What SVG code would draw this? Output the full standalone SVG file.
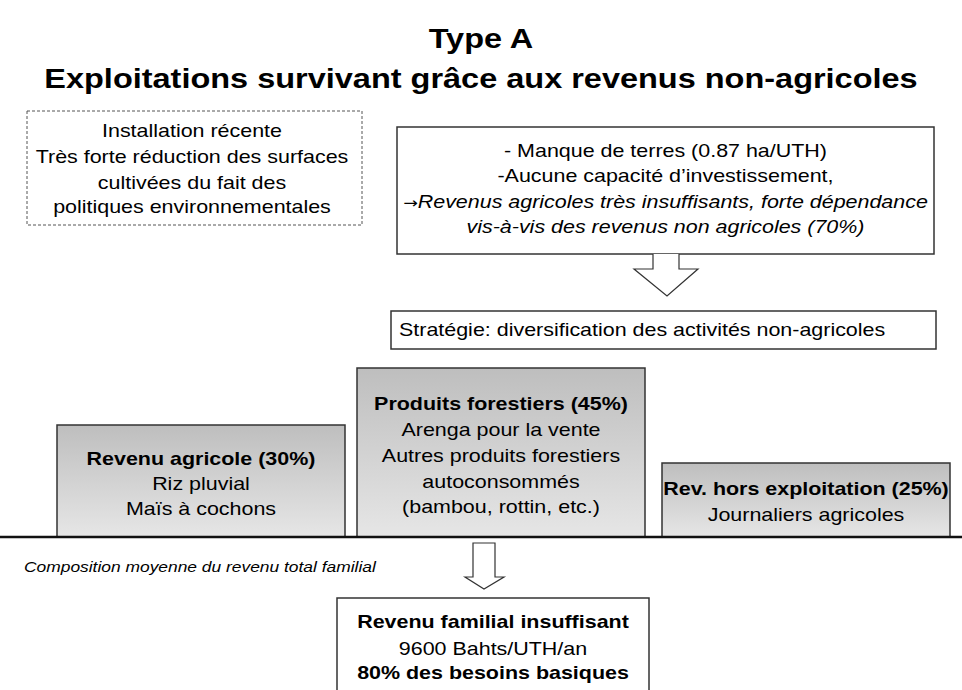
<svg xmlns="http://www.w3.org/2000/svg" width="962" height="690" viewBox="0 0 962 690">
<defs>
<linearGradient id="g" x1="0" y1="0" x2="0" y2="1">
<stop offset="0" stop-color="#bebebe"/>
<stop offset="1" stop-color="#e6e6e6"/>
</linearGradient>
<style>
text{font-family:"Liberation Sans",Arial,sans-serif;fill:#000;text-anchor:middle}
.t{font-size:18.5px}
.b{font-weight:bold}
.i{font-style:italic}
.ar{font-family:"DejaVu Sans",sans-serif;font-style:normal}
.box{fill:#fff;stroke:#333;stroke-width:1.5}
.gbox{fill:url(#g);stroke:#333;stroke-width:1.5}
.arr{fill:#fff;stroke:#333;stroke-width:1.2}
</style>
</defs>
<rect width="962" height="690" fill="#fff"/>
<g id="title" transform="scale(1.16 1)">
<text x="414.66" y="48" class="b" font-size="28">Type A</text>
<text x="414.66" y="88" class="b" font-size="28">Exploitations survivant grâce aux revenus non-agricoles</text>
</g>
<g id="context">
<rect x="27" y="111" width="335" height="114" fill="#fff" stroke="#555" stroke-width="1" stroke-dasharray="3,2"/>
<g transform="scale(1.16 1)">
<text class="t" x="165.52" y="137">Installation récente</text>
<text class="t" x="165.52" y="163">Très forte réduction des surfaces</text>
<text class="t" x="165.52" y="189">cultivées du fait des</text>
<text class="t" x="165.52" y="213">politiques environnementales</text>
</g>
</g>
<g id="constraints">
<rect class="box" x="397" y="127" width="537" height="127"/>
<g transform="scale(1.16 1)">
<text class="t" x="573.71" y="157">- Manque de terres (0.87 ha/UTH)</text>
<text class="t" x="573.71" y="182">-Aucune capacité d’investissement,</text>
<text class="t" x="573.71" y="208"><tspan class="ar" font-size="15">→</tspan><tspan class="i">Revenus agricoles très insuffisants, forte dépendance</tspan></text>
<text class="t i" x="573.71" y="233">vis-à-vis des revenus non agricoles (70%)</text>
</g>
</g>
<g id="strategy">
<rect class="box" x="391" y="311" width="545" height="38"/>
<g transform="scale(1.16 1)">
<text class="t" x="343.97" y="336" style="text-anchor:start">Stratégie: diversification des activités non-agricoles</text>
</g>
</g>
<g id="agri">
<rect class="gbox" x="57" y="425" width="288" height="112"/>
<g transform="scale(1.16 1)">
<text class="t b" x="173.28" y="465">Revenu agricole (30%)</text>
<text class="t" x="173.28" y="490">Riz pluvial</text>
<text class="t" x="173.28" y="515">Maïs à cochons</text>
</g>
</g>
<g id="forest">
<rect class="gbox" x="357" y="368" width="288" height="169"/>
<g transform="scale(1.16 1)">
<text class="t b" x="431.9" y="410">Produits forestiers (45%)</text>
<text class="t" x="431.9" y="436">Arenga pour la vente</text>
<text class="t" x="431.9" y="462">Autres produits forestiers</text>
<text class="t" x="431.9" y="488">autoconsommés</text>
<text class="t" x="431.9" y="513">(bambou, rottin, etc.)</text>
</g>
</g>
<g id="offfarm">
<rect class="gbox" x="662" y="463" width="288" height="74"/>
<g transform="scale(1.16 1)">
<text class="t b" x="694.83" y="495">Rev. hors exploitation (25%)</text>
<text class="t" x="694.83" y="521">Journaliers agricoles</text>
</g>
</g>
<g id="total">
<rect class="box" x="337" y="598" width="312" height="100"/>
<g transform="scale(1.16 1)">
<text class="t b" x="425" y="628">Revenu familial insuffisant</text>
<text class="t" x="425" y="655">9600 Bahts/UTH/an</text>
<text class="t b" x="425" y="679">80% des besoins basiques</text>
</g>
</g>
<g id="connectors">
<line x1="0" y1="537" x2="962" y2="537" stroke="#111" stroke-width="2.5"/>
<path class="arr" d="M653,254 V269 H634 L667,296 L698,269 H679 V254"/>
<path class="arr" d="M473,543 V577 H465 L484,589 L504,577 H495 V543 Z"/>
</g>
<g id="caption" transform="scale(1.16 1)">
<text x="20.69" y="572" font-size="15" class="i" style="text-anchor:start">Composition moyenne du revenu total familial</text>
</g>
</svg>
